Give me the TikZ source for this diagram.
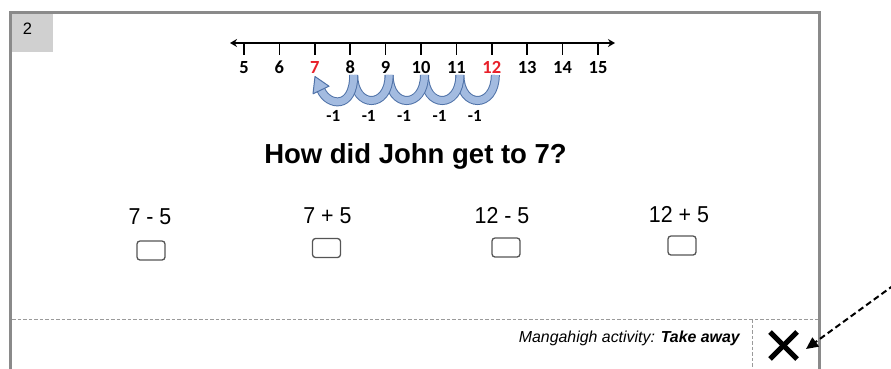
\documentclass[tikz,border=0pt]{standalone}
\usepackage{fontspec}
\setmainfont{Liberation Sans}
\newfontfamily\numfont{Carlito}
\newfontfamily\optfont[FakeStretch=0.93]{Liberation Sans}
\usetikzlibrary{arrows.meta}
\definecolor{framegray}{HTML}{8A8A8A}
\definecolor{tabgray}{HTML}{D0D0D0}
\definecolor{dashgray}{HTML}{9A9A9A}
\definecolor{numred}{HTML}{E8202A}
\definecolor{arcfill}{HTML}{A3BBE0}
\definecolor{arcedge}{HTML}{4F72A8}
\definecolor{boxedge}{HTML}{555555}
\tikzset{
  frameline/.style={draw=framegray, line width=3pt},
  sepline/.style={draw=dashgray, line width=0.9pt, dash pattern=on 3.5pt off 2pt},
  tickline/.style={draw=black, line width=1.6pt},
  numlbl/.style={font=\numfont\bfseries\fontsize{18.5}{21}\selectfont, inner sep=0pt, anchor=base},
  minuslbl/.style={font=\numfont\bfseries\fontsize{17}{19}\selectfont, inner sep=0pt, anchor=base},
  jumparc/.style={draw=arcedge, line width=1pt, double=arcfill, double distance=7pt},
  optlbl/.style={font=\optfont\fontsize{23}{27}\selectfont, inner sep=0pt, anchor=base},
  tickbox/.style={draw=boxedge, line width=1.3pt, rounded corners=3pt, minimum width=28pt, minimum height=19pt, inner sep=0pt},
  hintarrow/.style={draw=black, line width=2pt, dash pattern=on 6pt off 3.5pt, -{Triangle[length=12pt,width=11pt]}}
}
\begin{document}
\begin{tikzpicture}[x=1pt,y=-1pt]
\useasboundingbox (0,0) rectangle (891,368);
% frame
\node[fill=tabgray, minimum width=41pt, minimum height=38pt, inner sep=0pt, anchor=north west] (tab) at (12,14) {};
\node[font=\fontsize{16.5}{19}\selectfont, inner sep=0pt, anchor=base] (tabnum) at (27.5,34.5) {2};
\draw[frameline] (10.5,370) -- (10.5,12.5) -- (819,12.5) -- (819,370);
% separators
\draw[sepline] (12,319) -- (817.5,319);
\draw[sepline] (752,319) -- (752,370);
% number line
\coordinate (nlleft) at (230,43);
\coordinate (nlright) at (615,43);
\draw[line width=1.8pt, {Stealth[length=7pt,width=8pt]}-{Stealth[length=7pt,width=8pt]}] (nlleft) -- (nlright);
\foreach \n/\c in {5/black,6/black,7/numred,8/black,9/black,10/black,11/black,12/numred,13/black,14/black,15/black} {
  \pgfmathsetmacro\xx{244+(\n-5)*35.4}
  \coordinate (t\n) at (\xx,43);
  \draw[tickline] (t\n) -- ++(0,12);
  \node[numlbl, text=\c] (n\n) at (\xx,73.5) {\n};
  \coordinate (a\n) at (\xx+3.5,75);
}
% jumps
\draw[jumparc] (a12) .. controls +(0,34) and +(0,34) .. (a11);
\draw[jumparc] (a11) .. controls +(0,34) and +(0,34) .. (a10);
\draw[jumparc] (a10) .. controls +(0,34) and +(0,34) .. (a9);
\draw[jumparc] (a9) .. controls +(0,34) and +(0,34) .. (a8);
\coordinate (hb) at (321,90);
\draw[jumparc] (a8) .. controls +(0,35) and +(7,16) .. (hb);
\coordinate (htip) at (315,76.5);
\coordinate (hc1) at (329,86.2);
\coordinate (hc2) at (313,93.8);
\filldraw[fill=arcfill, draw=arcedge, line width=1pt, line join=round] (htip) -- (hc1) -- (hc2) -- cycle;
\foreach \n in {7,...,11} {
  \pgfmathsetmacro\xx{244+(\n-5)*35.4+18.5}
  \node[minuslbl] (m\n) at (\xx,121.5) {-1};
}
% question
\node[font=\bfseries\fontsize{27.5}{32}\selectfont, inner sep=0pt, anchor=base] (question) at (415.5,163) {How did John get to 7?};
% options
\node[optlbl] (o1) at (150,224) {7 - 5};
\node[optlbl] (o2) at (327.5,223.5) {7 + 5};
\node[optlbl] (o3) at (502,223) {12 - 5};
\node[optlbl] (o4) at (679,222.5) {12 + 5};
\node[tickbox] (b1) at (151,250.5) {};
\node[tickbox] (b2) at (326.5,248) {};
\node[tickbox] (b3) at (506,247.5) {};
\node[tickbox] (b4) at (682,245.5) {};
% footer
\node[font=\itshape\fontsize{15.9}{18}\selectfont, inner sep=0pt, anchor=base east] (activity) at (740,342) {Mangahigh activity: \textbf{Take away}};
\coordinate (x1) at (770,332);
\coordinate (x2) at (797,359);
\coordinate (x3) at (797,332);
\coordinate (x4) at (770,359);
\draw[line width=5pt] (x1) -- (x2);
\draw[line width=5pt] (x3) -- (x4);
\coordinate (arrowstart) at (894,285);
\coordinate (arrowtip) at (806,349);
\draw[hintarrow] (arrowstart) -- (arrowtip);
\end{tikzpicture}
\end{document}
